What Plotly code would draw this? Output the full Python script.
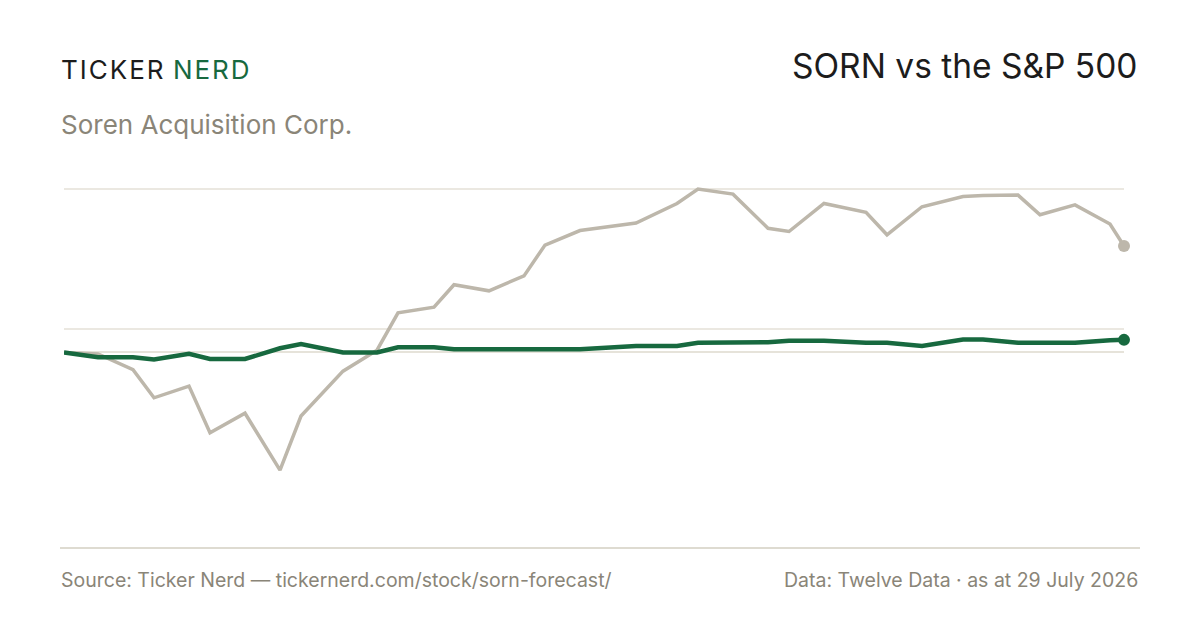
import plotly.graph_objects as go

# dates of the sampled points
dates = [
    "2023-09-03", "2023-10-07", "2023-11-11", "2023-12-02", "2024-01-06",
    "2024-01-27", "2024-03-02", "2024-04-06", "2024-04-27", "2024-06-08",
    "2024-07-12", "2024-08-02", "2024-09-07", "2024-09-27", "2024-11-01",
    "2024-12-06", "2024-12-27", "2025-01-31", "2025-03-28", "2025-05-08",
    "2025-05-29", "2025-07-03", "2025-08-07", "2025-08-28", "2025-10-02",
    "2025-11-13", "2025-12-04", "2026-01-08", "2026-02-18", "2026-03-10",
    "2026-04-14", "2026-05-06", "2026-06-10", "2026-07-15", "2026-07-29",
]

# % change from start
spx = [
    0.0, -0.3, -3.7, -9.7, -7.2, -17.2, -13.0, -25.2, -13.6, -4.0,
    0.5, 8.5, 9.7, 14.5, 13.2, 16.4, 23.0, 26.1, 27.7, 31.9,
    35.0, 33.9, 26.6, 25.9, 31.9, 30.0, 25.2, 31.2, 33.4, 33.6,
    33.7, 29.5, 31.6, 27.5, 22.8,
]
sorn = [
    0.0, -1.0, -1.0, -1.5, -0.3, -1.4, -1.4, 0.9, 1.8, 0.0,
    0.0, 1.1, 1.1, 0.7, 0.7, 0.7, 0.7, 0.7, 1.4, 1.4,
    2.1, 2.1, 2.2, 2.5, 2.5, 2.1, 2.1, 1.4, 2.8, 2.8,
    2.1, 2.1, 2.1, 2.6, 2.7,
]
grid_vals = [5, 35]

GREEN = "#17693f"
GREY = "#bdb7ab"
MUTED = "#8a8578"
FONT = "Inter"

OFF = 8  # page body margin
# plot area in screen pixels
L, R, T, B = 64, 1124, 180, 540


def px(x):
    return (x - L) / (R - L)


def py(y):
    return (B - y) / (B - T)


fig = go.Figure()
fig.add_trace(go.Scatter(
    x=dates, y=spx, mode="lines", line=dict(color=GREY, width=3.5),
    hoverinfo="skip", cliponaxis=False))
fig.add_trace(go.Scatter(
    x=dates, y=sorn, mode="lines", line=dict(color=GREEN, width=4.5),
    hoverinfo="skip", cliponaxis=False))
# end dots
fig.add_trace(go.Scatter(
    x=[dates[-1]], y=[spx[-1]], mode="markers",
    marker=dict(color=GREY, size=12), cliponaxis=False, hoverinfo="skip"))
fig.add_trace(go.Scatter(
    x=[dates[-1]], y=[sorn[-1]], mode="markers",
    marker=dict(color=GREEN, size=12), cliponaxis=False, hoverinfo="skip"))

fig.add_shape(type="line", xref="paper", yref="paper",
              x0=px(60), x1=px(1140), y0=py(548), y1=py(548),
              line=dict(color="#dedbd1", width=2))

fig.add_annotation(
    x=px(59), y=py(70), xref="paper", yref="paper", xanchor="left", yanchor="middle",
    text="<span style='letter-spacing:2px'>TICKER</span> "
         "<span style='letter-spacing:2px;color:" + GREEN + "'>NERD</span>",
    showarrow=False, font=dict(family=FONT, size=26, color="#1c1c1c"))
fig.add_annotation(
    x=px(59), y=py(124), xref="paper", yref="paper", xanchor="left", yanchor="middle",
    text="Soren Acquisition Corp.", showarrow=False,
    font=dict(family=FONT, size=26, color=MUTED))
fig.add_annotation(
    x=px(1140), y=py(66), xref="paper", yref="paper", xanchor="right", yanchor="middle",
    text="SORN vs the S&P 500", showarrow=False,
    font=dict(family=FONT, size=33.5, color="#1c1c1c"))
fig.add_annotation(
    x=px(59), y=py(580), xref="paper", yref="paper", xanchor="left", yanchor="middle",
    text="Source: Ticker Nerd — tickernerd.com/stock/sorn-forecast/", showarrow=False,
    font=dict(family=FONT, size=19.5, color=MUTED))
fig.add_annotation(
    x=px(1140), y=py(580), xref="paper", yref="paper", xanchor="right", yanchor="middle",
    text="Data: Twelve Data · as at 29 July 2026", showarrow=False,
    font=dict(family=FONT, size=19.5, color=MUTED))

y_top = 35 + (189 - T) / 4.671
y_bot = y_top - (B - T) / 4.671

fig.update_layout(
    width=1200, height=630,
    margin=dict(l=L - OFF, r=1200 - (R - OFF), t=T - OFF, b=630 - (B - OFF)),
    paper_bgcolor="white", plot_bgcolor="white",
    showlegend=False,
    xaxis=dict(range=[dates[0], dates[-1]], showgrid=False, zeroline=False,
               showticklabels=False, showline=False, ticks=""),
    yaxis=dict(range=[y_bot, y_top], tickvals=grid_vals, showticklabels=False,
               gridcolor="#ebe8e1", gridwidth=1.5, zeroline=True,
               zerolinecolor="#e6e3da", zerolinewidth=1.5, showline=False, ticks=""),
)

fig.write_html("out.html")
